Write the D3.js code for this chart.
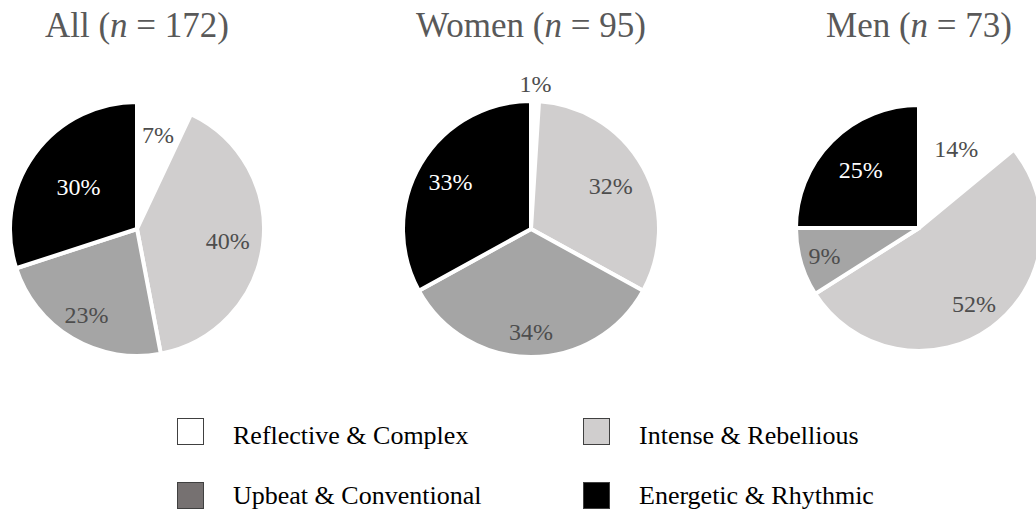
<!DOCTYPE html>
<html lang="en">
<head>
    <meta charset="UTF-8">
    <title>Music preference pies</title>
    <script src="https://d3js.org/d3.v7.min.js"></script>
    <style>
        body { margin: 0; background: white; }
        svg text { font-family: "Liberation Serif", "Times New Roman", serif; }
    </style>
</head>
<body>
<svg width="1036" height="513"></svg>
<script>
// Categories and values
var categories = ["Reflective & Complex", "Intense & Rebellious", "Upbeat & Conventional", "Energetic & Rhythmic"];
var groupNames = ["All", "Women", "Men"];
var groupN = [172, 95, 73];
var allValues = [7, 40, 23, 30];
var womenValues = [1, 32, 34, 33];
var menValues = [14, 52, 9, 25];

// Layout
var sliceColors = ["#ffffff", "#d0cece", "#a5a5a5", "#000000"];
var legendColors = ["#ffffff", "#d0cece", "#767171", "#000000"];
var labelColors = ["#4d4d4d", "#4d4d4d", "#4d4d4d", "#ffffff"];
var pieCenters = [[137, 229], [531, 229], [919, 228]];
var pieRadius = [127, 128, 123];
var labelFactor = [
    [0.76, 0.72, 0.78, 0.57],
    [1.14, 0.71, 0.80, 0.73],
    [0.71, 0.76, 0.80, 0.67]
];

var svg = d3.select("svg");
var pie = d3.pie().sort(null);
var series = [allValues, womenValues, menValues];

series.forEach(function (values, g) {
    var r = pieRadius[g];
    var arc = d3.arc().innerRadius(0).outerRadius(r);
    var gp = svg.append("g")
        .attr("transform", "translate(" + pieCenters[g][0] + "," + pieCenters[g][1] + ")");

    var arcs = pie(values);

    gp.selectAll("path")
        .data(arcs)
        .enter()
        .append("path")
        .attr("d", arc)
        .attr("fill", function (d, i) { return sliceColors[i]; })
        .attr("stroke", "white")
        .attr("stroke-width", 4)
        .attr("stroke-linejoin", "round");

    // Percent labels
    gp.selectAll("text.lbl")
        .data(arcs)
        .enter()
        .append("text")
        .attr("class", "lbl")
        .attr("transform", function (d, i) {
            var f = labelFactor[g][i] * r;
            var la = d3.arc().innerRadius(f).outerRadius(f);
            return "translate(" + la.centroid(d) + ")";
        })
        .attr("text-anchor", "middle")
        .attr("dy", "0.35em")
        .attr("font-size", "24px")
        .attr("fill", function (d, i) { return labelColors[i]; })
        .text(function (d) { return d.data + "%"; });

    // Title
    var t = svg.append("text")
        .attr("x", pieCenters[g][0])
        .attr("y", 37)
        .attr("text-anchor", "middle")
        .attr("font-size", "35px")
        .attr("fill", "#595959");
    t.append("tspan").text(groupNames[g] + " (");
    t.append("tspan").attr("font-style", "italic").text("n");
    t.append("tspan").text(" = " + groupN[g] + ")");
});

// Legend, 2 x 2
var legendX = [177, 583];
var legendY = [418, 482];
categories.forEach(function (c, i) {
    var col = i % 2, row = Math.floor(i / 2);
    var lg = svg.append("g")
        .attr("transform", "translate(" + legendX[col] + "," + legendY[row] + ")");
    lg.append("rect")
        .attr("x", 0.5)
        .attr("y", 0.5)
        .attr("width", 26)
        .attr("height", 26)
        .attr("fill", legendColors[i])
        .attr("stroke", "#404040")
        .attr("stroke-width", 1);
    lg.append("text")
        .attr("x", 56)
        .attr("y", row === 0 ? 26 : 22)
        .attr("font-size", "26px")
        .attr("fill", "#000")
        .text(c);
});
</script>
</body>
</html>
